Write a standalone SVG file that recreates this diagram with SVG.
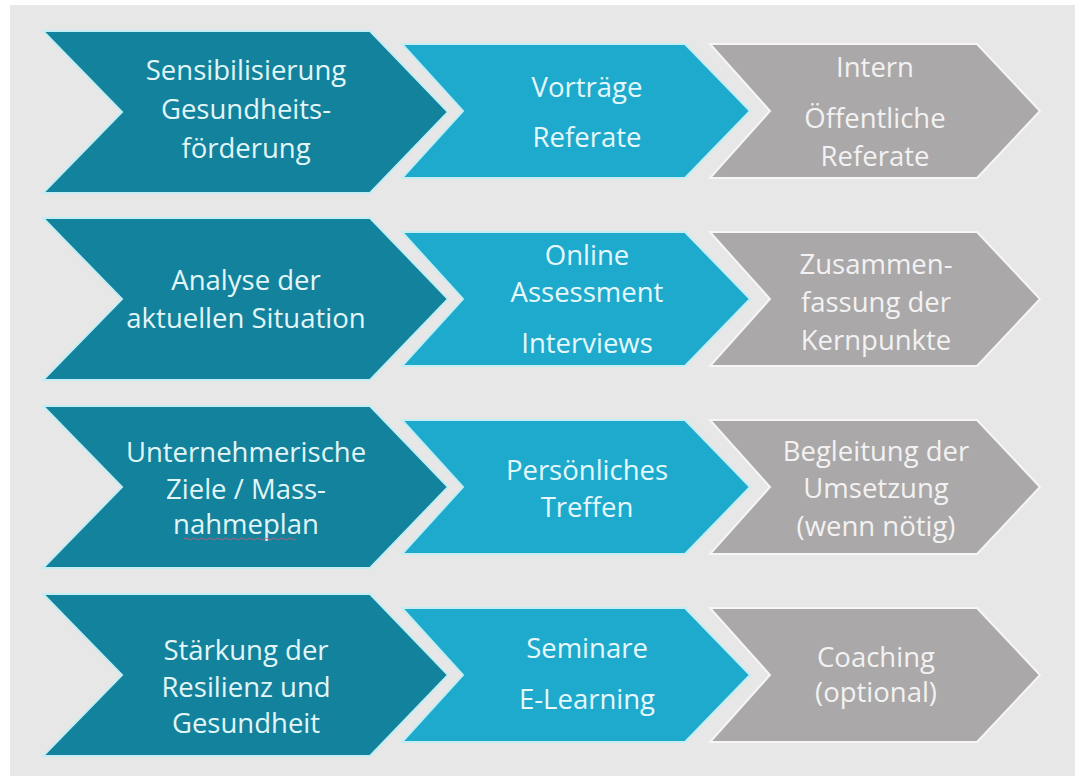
<svg xmlns="http://www.w3.org/2000/svg" width="1075" height="776" viewBox="0 0 1075 776">
<defs>
<style>
.bg{fill:#e8e7e7}
.dark{fill:#13829c;stroke:#c4eef3;stroke-width:2;stroke-linejoin:miter}
.mid{fill:#1eaacc;stroke:#c4eef3;stroke-width:2;stroke-linejoin:miter}
.gray{fill:#aaa8a9;stroke:#f7f5f5;stroke-width:2;stroke-linejoin:miter}
text{font-family:"Open Sans","Noto Sans","DejaVu Sans",sans-serif;font-size:27.5px;text-anchor:middle}
.td{fill:#e2f6f8}
.tm{fill:#e6f8fb}
.tg{fill:#f3f2f2}
</style>
</defs>
<rect x="0" y="0" width="1075" height="776" fill="#ffffff"/>
<rect class="bg" x="10" y="5" width="1065" height="771"/>

<g id="row1">
<g id="r1-dark">
<polygon class="dark" points="43,31 370,31 448,112 370,193 43,193 122,112"/>
<text class="td" x="246" y="80">Sensibilisierung</text>
<text class="td" x="246" y="119">Gesundheits-</text>
<text class="td" x="246" y="158">förderung</text>
</g>
<g id="r1-mid">
<polygon class="mid" points="402,44 685,44 750,111 685,178 402,178 463,111"/>
<text class="tm" x="587" y="97">Vorträge</text>
<text class="tm" x="587" y="147">Referate</text>
</g>
<g id="r1-gray">
<polygon class="gray" points="710,44 977,44 1040,111 977,178 710,178 770,111"/>
<text class="tg" x="875" y="77">Intern</text>
<text class="tg" x="875" y="128">Öffentliche</text>
<text class="tg" x="875" y="166">Referate</text>
</g>
</g>

<g id="row2">
<g id="r2-dark">
<polygon class="dark" points="43,218 370,218 448,299 370,380 43,380 122,299"/>
<text class="td" x="246" y="290">Analyse der</text>
<text class="td" x="246" y="328">aktuellen Situation</text>
</g>
<g id="r2-mid">
<polygon class="mid" points="402,232 685,232 750,299 685,366 402,366 463,299"/>
<text class="tm" x="587" y="265">Online</text>
<text class="tm" x="587" y="302">Assessment</text>
<text class="tm" x="587" y="353">Interviews</text>
</g>
<g id="r2-gray">
<polygon class="gray" points="710,232 977,232 1040,299 977,366 710,366 770,299"/>
<text class="tg" x="876" y="274">Zusammen-</text>
<text class="tg" x="876" y="312">fassung der</text>
<text class="tg" x="876" y="350">Kernpunkte</text>
</g>
</g>

<g id="row3">
<g id="r3-dark">
<polygon class="dark" points="43,406 370,406 448,487 370,568 43,568 122,487"/>
<text class="td" x="246" y="462">Unternehmerische</text>
<text class="td" x="246" y="499">Ziele / Mass-</text>
<text class="td" x="246" y="534">nahmeplan</text>
<path d="M184,539 q2,-2 4,0 t4,0 t4,0 t4,0 t4,0 t4,0 t4,0 t4,0 t4,0 t4,0 t4,0 t4,0 t4,0 t4,0 t4,0 t4,0 t4,0 t4,0 t4,0 t4,0 t4,0 t4,0 t4,0 t4,0 t4,0 t4,0 t4,0 t4,0" fill="none" stroke="#d9586c" stroke-width="1" opacity="0.8"/>
</g>
<g id="r3-mid">
<polygon class="mid" points="402,420 685,420 750,487 685,554 402,554 463,487"/>
<text class="tm" x="587" y="480">Persönliches</text>
<text class="tm" x="587" y="517">Treffen</text>
</g>
<g id="r3-gray">
<polygon class="gray" points="710,420 977,420 1040,487 977,554 710,554 770,487"/>
<text class="tg" x="876" y="461">Begleitung der</text>
<text class="tg" x="876" y="498">Umsetzung</text>
<text class="tg" x="876" y="536">(wenn nötig)</text>
</g>
</g>

<g id="row4">
<g id="r4-dark">
<polygon class="dark" points="43,594 370,594 448,675 370,756 43,756 122,675"/>
<text class="td" x="246" y="660">Stärkung der</text>
<text class="td" x="246" y="697">Resilienz und</text>
<text class="td" x="246" y="733">Gesundheit</text>
</g>
<g id="r4-mid">
<polygon class="mid" points="402,608 685,608 750,675 685,742 402,742 463,675"/>
<text class="tm" x="587" y="658">Seminare</text>
<text class="tm" x="587" y="709">E-Learning</text>
</g>
<g id="r4-gray">
<polygon class="gray" points="710,608 977,608 1040,675 977,742 710,742 770,675"/>
<text class="tg" x="876" y="667">Coaching</text>
<text class="tg" x="876" y="702">(optional)</text>
</g>
</g>

<g id="connectors"></g>
</svg>
